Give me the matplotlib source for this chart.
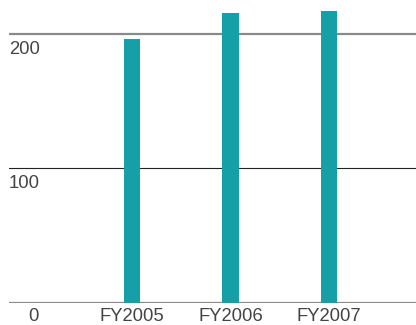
import matplotlib.pyplot as plt

years = ['FY2005', 'FY2006', 'FY2007']
values = [196, 215.5, 217]
grid_vals = [100, 200]
grid_labels = ['100', '200']

plt.rcParams['font.family'] = ['Liberation Sans', 'DejaVu Sans']

fig = plt.figure(figsize=(4.16, 3.25), dpi=100)
ax = fig.add_axes([9 / 416, (325 - 302.7) / 325, 1 - 9 / 416, 302.7 / 325])

x = [1, 2, 3]
ax.bar(x, values, width=0.165, color='#15a0a8', zorder=3)

# horizontal rules: grey at 0 and 200, dark at 100
ax.axhline(0, color='#8a8a8a', lw=1.6, zorder=2)
ax.axhline(100, color='#222222', lw=0.8, zorder=2)
ax.axhline(200, color='#8a8a8a', lw=1.6, zorder=2)

ax.set_xlim(-0.249, 3.883)
ax.set_ylim(0, 225.2)
ax.axis('off')

txt = dict(fontsize=13.3, color='#444444')
for v, lab in zip(grid_vals, grid_labels):
    ax.annotate(lab, (0, v), xycoords=('axes fraction', 'data'),
                xytext=(0, -5), textcoords='offset points',
                ha='left', va='top', **txt)

ax.annotate('0', (0, 0), xycoords='data', xytext=(0, -4),
            textcoords='offset points', ha='center', va='top', **txt)
for xi, lab in zip(x, years):
    ax.annotate(lab, (xi, 0), xycoords='data', xytext=(0, -4),
                textcoords='offset points', ha='center', va='top', **txt)

fig.savefig('out.png', dpi=100)
